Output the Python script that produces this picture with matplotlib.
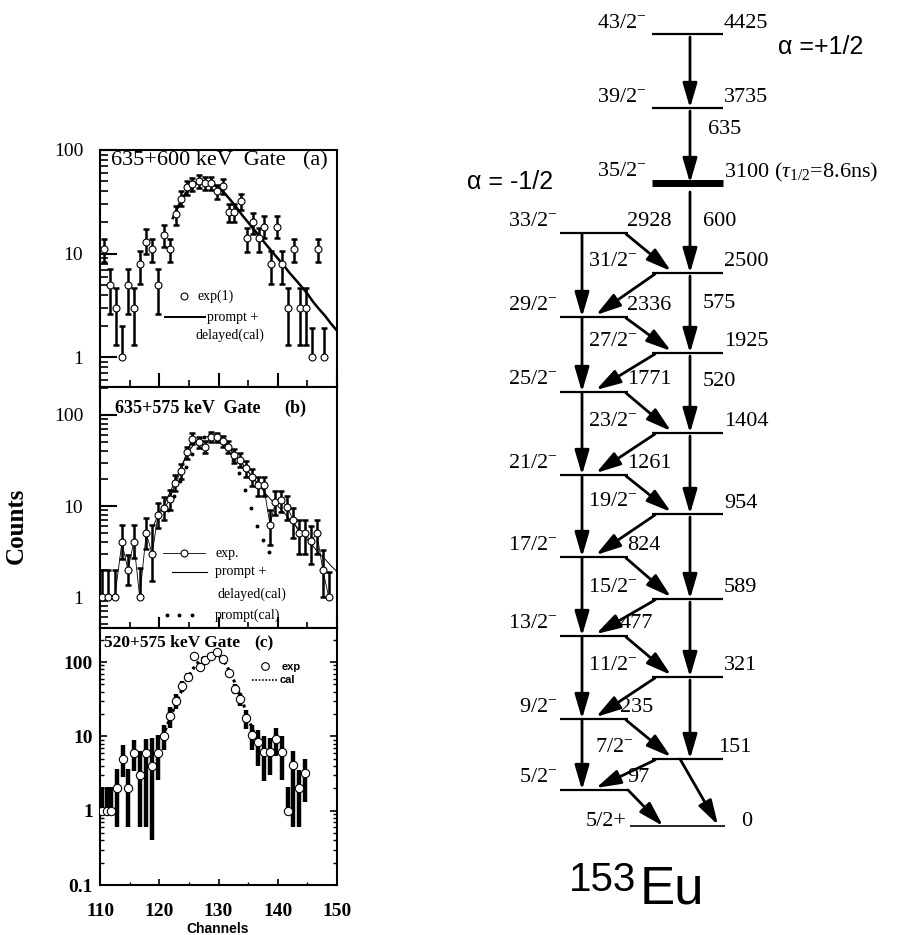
import numpy as np
import matplotlib
matplotlib.use("Agg")
import matplotlib.pyplot as plt
from matplotlib.patches import FancyArrowPatch
from matplotlib.ticker import FixedLocator, FixedFormatter, NullFormatter, LogLocator

plt.rcParams['font.family'] = ['Liberation Serif', 'DejaVu Serif']
plt.rcParams['mathtext.fontset'] = 'custom'
plt.rcParams['mathtext.rm'] = 'Liberation Serif'
plt.rcParams['mathtext.it'] = 'Liberation Serif:italic'
plt.rcParams['mathtext.bf'] = 'Liberation Serif:bold'

# ---------------- data: panel (a) 635+600 keV gate ----------------
ch_a = [110.6, 111.7, 112.7, 113.7, 114.8, 115.8, 116.8, 117.8, 118.8, 119.8,
        120.8, 121.8, 122.8, 123.7, 124.7, 125.6, 126.7, 127.7, 128.7, 129.7,
        130.7, 131.7, 132.7, 133.8, 134.8, 135.8, 136.8, 137.7, 138.8, 139.8,
        140.8, 141.8, 142.8, 143.8, 144.8, 145.8, 146.8, 147.8]
cnt_a = [11, 5, 3, 1, 5, 3, 8, 13, 11, 5,
         15, 11, 24, 34, 44, 47, 50, 48, 48, 40,
         45, 25, 25, 32, 14, 20, 14, 18, 8, 18,
         8, 3, 11, 3, 3, 1, 11, 1]
lo_a = [8.3, 2.6, 1.3, 1.0, 2.6, 1.3, 5.1, 9.9, 8.3, 2.6,
        11.5, 8.3, 19, 28.5, 37, 40, 43, 41, 41, 34,
        38, 20, 20, 26.5, 10.3, 15.5, 10.3, 14, 5.1, 14,
        5.1, 1.3, 8.3, 1.3, 1.3, 1.0, 8.3, 1.0]
hi_a = [13.9, 7.1, 4.7, 2.0, 7.1, 4.7, 10.7, 17.3, 13.9, 7.1,
        19, 13.9, 29, 40, 50, 54, 57, 55, 55, 46,
        52, 30, 30, 38, 17.7, 24.5, 17.7, 23, 10.7, 23,
        10.7, 4.7, 13.9, 4.7, 4.7, 1.9, 13.9, 1.9]
cal_ch_a = [122.3, 123, 124, 125, 126, 127, 128, 129, 130, 131, 132, 133, 134, 135,
            136, 137, 138, 139, 140, 141, 142, 143, 144, 145, 146, 147, 148, 149, 150]
cal_a = [22, 27, 35, 42, 47, 49.5, 49, 47, 43, 38.5, 33, 28, 23.5, 20,
         17, 14.5, 12.3, 10.5, 9, 7.7, 6.5, 5.6, 4.8, 4.1, 3.4, 2.9, 2.5, 2.1, 1.8]

# ---------------- data: panel (b) 635+575 keV gate ----------------
ch_b = [110.3, 111.4, 112.5, 113.7, 114.7, 115.7, 116.7, 117.8, 118.8, 119.8,
        120.8, 121.8, 122.7, 123.7, 124.6, 125.6, 126.7, 127.7, 128.7, 129.7,
        130.7, 131.6, 132.6, 133.6, 134.6, 135.6, 136.6, 137.6, 138.7, 139.6,
        140.6, 141.6, 142.6, 143.6, 144.6, 145.6, 146.6, 147.6, 148.6]
cnt_b = [1, 1, 1, 4, 2, 4, 1, 5, 3, 8,
         9.4, 11.8, 18, 24, 39, 55, 50, 45, 58, 57,
         52, 45, 36, 32, 26, 21, 17, 17, 6.2, 11,
         11.5, 9.8, 7, 5, 5, 4.1, 5, 2, 1]
lo_b = [1, 1, 1, 2.6, 1.35, 2.7, 1, 3.4, 1.5, 5.8,
        7, 9, 14.5, 20, 33, 48, 43, 38, 50, 50,
        45, 38, 30, 26.5, 21, 16.5, 13, 13, 3.7, 8,
        8.5, 7, 4.5, 3, 3, 2.3, 3, 1, 1]
hi_b = [2, 2, 2, 6.2, 2.9, 6.2, 2.1, 7.3, 6.2, 10.7,
        12.5, 15, 22, 29, 45, 63, 57, 52, 65, 64,
        59, 52, 42, 38, 31, 25.5, 21, 21, 9, 14.5,
        14.5, 13, 9.5, 7, 7, 6, 7, 3.3, 1.9]
cal_ch_b = [119, 120, 121, 122, 123, 124, 125, 126, 127, 128, 129, 130, 131, 132,
            133, 134, 135, 136, 137, 138, 139, 140, 141, 142, 143, 144, 145, 146,
            147, 148, 149, 150]
cal_b = [6, 8.5, 11, 15, 21, 30, 40, 49, 55, 58, 58, 55, 49, 42,
         35, 29, 24, 20, 16.5, 13.5, 11.5, 10, 8.5, 7.2, 6.1, 5.1, 4.3, 3.6,
         3.0, 2.6, 2.2, 1.9]
prompt_ch_b = [121.5, 122.5, 123.5, 124.5, 125.5, 126.5, 127.5, 128.5, 129.5,
               130.5, 131.5, 132.5, 133.5, 134.5, 135.5, 136.5, 137.5, 138.5]
prompt_b = [9, 13, 19, 27, 37, 48, 57, 62, 60, 52, 42, 32, 23, 15, 9.5, 6, 4.2, 3.1]

# ---------------- data: panel (c) 520+575 keV gate ----------------
ch_c = [110.3, 111.1, 111.9, 112.8, 113.8, 114.8, 115.8, 116.8, 117.8, 118.8,
        119.8, 120.8, 121.8, 122.8, 123.8, 124.8, 125.8, 126.8, 127.8, 128.8,
        129.8, 130.8, 131.8, 132.8, 133.7, 134.7, 135.7, 136.7, 137.7, 138.7,
        139.7, 140.7, 141.7, 142.6, 143.6, 144.6]
cnt_c = [1, 1, 1, 2, 5, 2, 6, 3, 6, 4,
         6, 10, 19, 30, 47, 63, 120, 87, 108, 120,
         135, 110, 72, 44, 32, 17.5, 10.3, 8.3, 6.2, 6.2,
         9.3, 6.2, 1, 4.1, 2, 3.2]
lo_c = [1, 1, 1, 0.6, 2.8, 0.6, 3.4, 0.6, 0.6, 0.4,
        2.6, 6.5, 13, 23, 39, 54, 108, 77, 97, 108,
        123, 99, 63, 37, 26, 12.5, 6.5, 4.0, 2.5, 3.0,
        5.5, 2.6, 1, 0.6, 0.6, 1.3]
hi_c = [2.1, 2.1, 2.1, 3.6, 7.6, 3.6, 9.0, 6.3, 9.3, 9.4,
        10.5, 14, 25, 37, 55, 72, 132, 97, 119, 132,
        147, 121, 81, 51, 38, 22.5, 14, 12, 10, 9.5,
        13, 10, 2.1, 6.3, 3.5, 5.0]
cal_ch_c = [121, 122, 123, 124, 125, 126, 127, 128, 129, 130, 131, 132, 133, 134, 135, 136]
cal_c = [12, 19, 30, 45, 65, 88, 108, 122, 128, 122, 100, 72, 48, 30, 18, 11]

x_ticks = [110, 120, 130, 140, 150]
x_ticklabels = ["110", "120", "130", "140", "150"]
y_ticks_ab = [1, 10, 100]
y_ticklabels_ab = ["1", "10", "100"]
y_ticks_c = [0.1, 1, 10, 100]
y_ticklabels_c = ["0.1", "1", "10", "100"]

# ---------------- data: level scheme of 153Eu ----------------
band_plus_E = [4425, 3735, 3100, 2500, 1925, 1404, 954, 589, 321, 151]
band_plus_J = ["43/2", "39/2", "35/2", "31/2", "27/2", "23/2", "19/2", "15/2", "11/2", "7/2"]
band_minus_E = [2928, 2336, 1771, 1261, 824, 477, 235, 97]
band_minus_J = ["33/2", "29/2", "25/2", "21/2", "17/2", "13/2", "9/2", "5/2"]
ground_E = 0
ground_J = "5/2+"
isomer_E = 3100
isomer_halflife = "8.6ns"
transitions = [(4425, 3735), (3735, 3100), (3100, 2500), (2500, 1925), (1925, 1404),
               (1404, 954), (954, 589), (589, 321), (321, 151),
               (2928, 2336), (2336, 1771), (1771, 1261), (1261, 824), (824, 477),
               (477, 235), (235, 97),
               (2928, 2500), (2500, 2336), (2336, 1925), (1925, 1771), (1771, 1404),
               (1404, 1261), (1261, 954), (954, 824), (824, 589), (589, 477),
               (477, 321), (321, 235), (235, 151), (151, 97), (97, 0), (151, 0)]
gamma_label_E = [(3735, 3100), (3100, 2500), (2500, 1925), (1925, 1404)]
gamma_label_txt = ["635", "600", "575", "520"]

# ---------------- layout (pixels of the 901x935 canvas) ----------------
level_y = {4425: 34, 3735: 108, 3100: 183, 2928: 233, 2500: 273, 2336: 317,
           1925: 353, 1771: 392, 1404: 433, 1261: 475, 954: 514, 824: 557,
           589: 599, 477: 636, 321: 677, 235: 719, 151: 759, 97: 790, 0: 826}
plus_x = (652, 723)
minus_x = (560, 628)
ground_x = (630, 725)
plus_col = 690
minus_col = 582

W_FIG, H_FIG = 901, 935
fig = plt.figure(figsize=(9.01, 9.35), dpi=100)

def px_axes(top, bottom, left=100, right=337):
    return [left / W_FIG, 1 - bottom / H_FIG, (right - left) / W_FIG, (bottom - top) / H_FIG]

ax_a = fig.add_axes(px_axes(150, 387))
ax_b = fig.add_axes(px_axes(387, 628))
ax_c = fig.add_axes(px_axes(628, 885))

def style_panel(ax, ylim, yt, ytl, bold, show_x):
    ax.set_yscale('log')
    ax.set_xlim(110, 150)
    ax.set_ylim(*ylim)
    ax.xaxis.set_major_locator(FixedLocator(x_ticks))
    ax.xaxis.set_minor_locator(FixedLocator([115, 125, 135, 145]))
    ax.yaxis.set_major_locator(FixedLocator(yt))
    ax.yaxis.set_major_formatter(FixedFormatter(ytl))
    ax.yaxis.set_minor_locator(LogLocator(base=10, subs=np.arange(2, 10), numticks=12))
    ax.yaxis.set_minor_formatter(NullFormatter())
    for s in ax.spines.values():
        s.set_linewidth(1.5)
    wt = 'bold' if bold else 'normal'
    if show_x:
        ax.xaxis.set_major_formatter(FixedFormatter(x_ticklabels))
        for lab in ax.get_xticklabels():
            lab.set_fontweight('bold')
        ax.tick_params(axis='x', labelsize=14, pad=13)
    else:
        ax.tick_params(axis='x', labelbottom=False)
    for lab in ax.get_yticklabels():
        lab.set_fontweight(wt)

def draw_exp(ax, ch, cnt, lo, hi, elw, cap, ms):
    yerr = [np.array(cnt) - np.array(lo), np.array(hi) - np.array(cnt)]
    ax.errorbar(ch, cnt, yerr=yerr, fmt='none', ecolor='black', elinewidth=elw,
                capsize=cap, capthick=elw, zorder=2)
    ax.plot(ch, cnt, 'o', ms=ms, mfc='white', mec='black', mew=0.8, zorder=4)

# panel (a)
style_panel(ax_a, (0.515, 100), y_ticks_ab, y_ticklabels_ab, False, False)
ax_a.tick_params(axis='y', which='major', direction='in', length=12, width=1.5, labelsize=14, pad=12)
ax_a.tick_params(axis='y', which='minor', direction='in', length=6, width=1.2)
ax_a.tick_params(axis='x', which='major', direction='in', length=10, width=1.5)
ax_a.tick_params(axis='x', which='minor', direction='in', length=5, width=1.2)
draw_exp(ax_a, ch_a, cnt_a, lo_a, hi_a, 1.8, 2.5, 5)
ax_a.plot(cal_ch_a, cal_a, '-', color='black', lw=1.8, zorder=3)
ax_a.text(0.045, 0.955, "635+600 keV  Gate", transform=ax_a.transAxes, fontsize=16,
          ha='left', va='center')
ax_a.text(0.96, 0.955, "(a)", transform=ax_a.transAxes, fontsize=16, ha='right', va='center')

# panel (b)
style_panel(ax_b, (0.457, 203), y_ticks_ab, y_ticklabels_ab, False, False)
ax_b.tick_params(axis='y', which='major', direction='in', length=12, width=1.5, labelsize=14, pad=12)
ax_b.tick_params(axis='y', which='minor', direction='in', length=6, width=1.2)
ax_b.tick_params(axis='x', which='major', direction='in', length=8, width=1.5)
ax_b.tick_params(axis='x', which='minor', direction='in', length=4, width=1.2)
ax_b.plot(ch_b, cnt_b, '-', color='black', lw=0.6, zorder=3)
draw_exp(ax_b, ch_b, cnt_b, lo_b, hi_b, 1.8, 2.5, 5)
ax_b.plot(cal_ch_b, cal_b, '-', color='black', lw=0.7, zorder=3)
ax_b.plot(prompt_ch_b, prompt_b, linestyle='none', marker='o', ms=1.8, color='black', zorder=3)
ax_b.text(0.065, 0.91, "635+575 keV  Gate", transform=ax_b.transAxes, fontsize=13,
          fontweight='bold', ha='left', va='center')
ax_b.text(0.87, 0.91, "(b)", transform=ax_b.transAxes, fontsize=13, fontweight='bold',
          ha='right', va='center')

# panel (c)
style_panel(ax_c, (0.1, 287), y_ticks_c, y_ticklabels_c, True, True)
ax_c.tick_params(axis='y', which='major', direction='in', length=5, width=1.2, labelsize=14,
                 pad=5, right=True)
ax_c.tick_params(axis='y', which='minor', direction='in', length=3, width=1.0, right=True)
ax_c.tick_params(axis='x', which='major', direction='in', length=4, width=1.2)
ax_c.tick_params(axis='x', which='minor', direction='in', length=2, width=1.0)
for lab in ax_c.get_yticklabels():
    lab.set_fontweight('bold')
draw_exp(ax_c, ch_c, cnt_c, lo_c, hi_c, 3.2, 0, 6)
ax_c.plot(cal_ch_c, cal_c, linestyle=(0, (1, 1.2)), color='black', lw=2.2, zorder=3)
ax_c.text(0.015, 0.94, "520+575 keV Gate", transform=ax_c.transAxes, fontsize=12.5,
          fontweight='bold', ha='left', va='center')
ax_c.text(0.73, 0.94, "(c)", transform=ax_c.transAxes, fontsize=12.5, fontweight='bold',
          ha='right', va='center')

# ---------------- overlay (pixel space) ----------------
ov = fig.add_axes([0, 0, 1, 1])
ov.set_xlim(0, W_FIG)
ov.set_ylim(H_FIG, 0)
ov.axis('off')
ov.patch.set_visible(False)

# axis titles
ov.text(16, 526, "Counts", rotation=90, fontsize=18, fontweight='bold', ha='center', va='center')
ov.text(218, 929, "Channels", fontsize=10, fontweight='bold', ha='center', va='center',
        family=['Liberation Sans', 'DejaVu Sans'])

# legend (a)
ov.plot([184], [296], 'o', ms=5, mfc='white', mec='black', mew=0.8)
ov.text(197, 296, "exp(1)", fontsize=10, ha='left', va='center')
ov.plot([165, 205], [317, 317], '-', color='black', lw=1.4)
ov.text(207, 317, "prompt +", fontsize=10, ha='left', va='center')
ov.text(195, 335, "delayed(cal)", fontsize=10, ha='left', va='center')

# legend (b)
ov.plot([163, 205], [553, 553], '-', color='black', lw=0.6)
ov.plot([184], [553], 'o', ms=5, mfc='white', mec='black', mew=0.8)
ov.text(215, 553, "exp.", fontsize=10, ha='left', va='center')
ov.plot([172, 207], [572, 572], '-', color='black', lw=0.8)
ov.text(215, 572, "prompt +", fontsize=10, ha='left', va='center')
ov.text(218, 594, "delayed(cal)", fontsize=10, ha='left', va='center')
ov.plot([167, 179, 192], [615, 615, 615], 'o', ms=1.8, color='black')
ov.text(215, 615, "prompt(cal)", fontsize=10, ha='left', va='center')

# legend (c)
ov.plot([265], [666], 'o', ms=5.5, mfc='white', mec='black', mew=0.8)
ov.text(282, 667, "exp", fontsize=8, fontweight='bold', ha='left', va='center',
        family=['Liberation Sans', 'DejaVu Sans'])
ov.plot([252, 277], [680, 680], linestyle=(0, (1, 1)), color='black', lw=1.2)
ov.text(280, 680, "cal", fontsize=8, fontweight='bold', ha='left', va='center',
        family=['Liberation Sans', 'DejaVu Sans'])

# ---------------- level scheme ----------------
FS = 16
minus_sup = r"$^{-}$"
plus_set = set(band_plus_E)
minus_set = set(band_minus_E)

for E, J in zip(band_plus_E, band_plus_J):
    y = level_y[E]
    lw = 5 if E == isomer_E else 1.6
    ov.plot(plus_x, [y, y], '-', color='black', lw=lw, solid_capstyle='butt')
    if E >= isomer_E:
        ov.text(647, y - 11, J + minus_sup, fontsize=FS, ha='right', va='center')
    else:
        xl = 595 if E == 151 else 588
        ov.text(xl, y - 12, J + minus_sup, fontsize=FS, ha='left', va='center')
    xe = 718 if E == 151 else 724
    if E == isomer_E:
        ov.text(xe, y - 11, f"{E} ($\\tau_{{1/2}}$={isomer_halflife})", fontsize=FS,
                ha='left', va='center')
    else:
        ov.text(xe, y - 11, str(E), fontsize=FS, ha='left', va='center')

for E, J in zip(band_minus_E, band_minus_J):
    y = level_y[E]
    ov.plot(minus_x, [y, y], '-', color='black', lw=1.6, solid_capstyle='butt')
    ov.text(558, y - 12, J + minus_sup, fontsize=FS, ha='right', va='center')
    xe = 620 if E in (477, 235) else 627
    ov.text(xe, y - 12, str(E), fontsize=FS, ha='left', va='center')

yg = level_y[ground_E]
ov.plot(ground_x, [yg, yg], '-', color='black', lw=1.2, solid_capstyle='butt')
ov.text(627, yg - 4, ground_J, fontsize=FS, ha='right', va='center')
ov.text(741, yg - 4, str(ground_E), fontsize=FS, ha='left', va='center')

def arrow(p0, p1):
    a = FancyArrowPatch(p0, p1, arrowstyle='-|>,head_length=0.75,head_width=0.22',
                        mutation_scale=20, lw=2.0, color='black', shrinkA=0, shrinkB=0,
                        transform=ov.transData)
    ov.add_patch(a)

for (Ei, Ef) in transitions:
    yi, yf = level_y[Ei], level_y[Ef]
    if Ef == ground_E:
        if Ei in plus_set:
            arrow((680, yi), (718, yf - 1))
        else:
            arrow((628, yi), (663, yf))
    elif Ei in plus_set and Ef in plus_set:
        gap = 9 if Ei == isomer_E else 3
        arrow((plus_col, yi + gap), (plus_col, yf))
    elif Ei in minus_set and Ef in minus_set:
        arrow((minus_col, yi + 1), (minus_col, yf))
    elif Ei in plus_set:
        arrow((655, yi + 1), (596, yf - 2))
    else:
        arrow((626, yi + 1), (671, yf - 2))

gl_pos = [(708, 130), (703, 222), (703, 303), (703, 382)]
for (pair, txt), (gx, gy) in zip(zip(gamma_label_E, gamma_label_txt), gl_pos):
    ov.text(gx, gy, txt, fontsize=FS, ha='left', va='center')

sans = ['Liberation Sans', 'DejaVu Sans']
ov.text(778, 47, "\u03b1 =+1/2", fontsize=18, ha='left', va='center', family=sans)
ov.text(553, 182, "\u03b1 = -1/2", fontsize=18, ha='right', va='center', family=sans)
ov.text(636, 880, "153", fontsize=29, ha='right', va='center', family=sans)
ov.text(640, 890, "Eu", fontsize=38, ha='left', va='center', family=sans)

fig.savefig("out.png", dpi=100)
